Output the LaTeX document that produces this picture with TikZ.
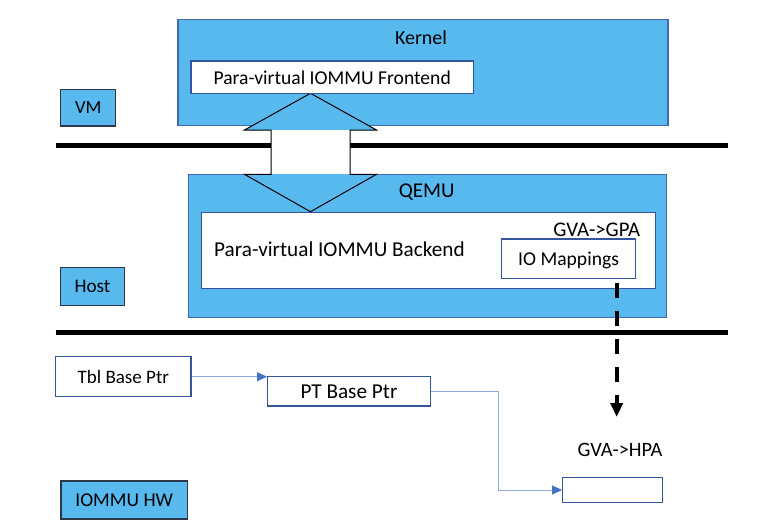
\documentclass[tikz,border=0pt]{standalone}
\usepackage{fontspec}
\setmainfont{Carlito}
\usetikzlibrary{arrows.meta}

\definecolor{boxblue}{RGB}{88,185,238}
\definecolor{kernelline}{RGB}{68,104,172}
\definecolor{tagline}{RGB}{45,55,72}
\definecolor{boxline}{RGB}{52,84,158}
\definecolor{linkblue}{RGB}{143,170,220}
\definecolor{headblue}{RGB}{68,114,196}

\begin{document}
\begin{tikzpicture}[x=1pt,y=-1pt,
	font=\fontsize{20}{24}\selectfont,
	bluebox/.style={draw=kernelline,fill=boxblue,line width=1.3pt,inner sep=0pt},
	tagbox/.style={draw=tagline,fill=boxblue,line width=1.3pt,inner sep=0pt,text depth=0pt},
	whitebox/.style={draw=boxline,fill=white,line width=1.3pt,inner sep=0pt,text depth=0pt},
	bar/.style={line width=5pt},
	link/.style={draw=linkblue,line width=1pt,-{Triangle[length=10pt,width=9pt,color=headblue]}}]
	\useasboundingbox (0,0) rectangle (764,528);
	% separators between VM, host and hardware
	\draw[bar] (55.7,145.5)--(728.3,145.5);
	\draw[bar] (55.7,332.3)--(728.3,332.3);
	% guest side
	\node[bluebox,minimum width=490,minimum height=106.2] (kernel) at (423,72.6) {};
	\node (kernellabel) at (421,37.5) {Kernel};
	\node[tagbox,minimum width=55,minimum height=36.7] (vm) at (88.2,107.7) {\fontsize{18.5}{22}\selectfont VM};
	% host side
	\node[bluebox,minimum width=478.2,minimum height=143.2] (qemu) at (427.4,245.9) {};
	\node (qemulabel) at (426.7,191.7) {\fontsize{21}{25}\selectfont QEMU};
	\node[tagbox,minimum width=63.6,minimum height=38.4] (host) at (92.5,286.5) {\fontsize{19.2}{23}\selectfont Host};
	% the double arrow through the separator
	\fill[boxblue] (310.5,93.3)--(376.5,130)--(350,130)--(350,174.3)--(376.5,174.3)--(310.5,211.7)
		--(244.5,174.3)--(271,174.3)--(271,130)--(244.5,130)--cycle;
	\fill[white] (271,130) rectangle (350,174.3);
	\draw[line width=1pt,line join=miter] (310.5,93.3)--(376.5,130)--(350,130)--(350,174.3)--(376.5,174.3)--(310.5,211.7)
		--(244.5,174.3)--(271,174.3)--(271,130)--(244.5,130)--cycle;
	\node[whitebox,minimum width=282.3,minimum height=32.3] (frontend) at (332.2,77.2) {\fontsize{19.6}{23}\selectfont Para-virtual IOMMU Frontend};
	\node[whitebox,minimum width=453.8,minimum height=76] (backend) at (428.6,250.3) {};
	\node[anchor=west,inner sep=0pt,text depth=0pt] (backendlabel) at (214,249.3) {\fontsize{21.2}{25}\selectfont Para-virtual IOMMU Backend};
	\node (gpa) at (596.7,230) {\fontsize{20.8}{25}\selectfont GVA->GPA};
	\node[whitebox,minimum width=133.8,minimum height=39.3] (iomap) at (568.6,258.7) {\fontsize{19.6}{23}\selectfont IO Mappings};
	% hardware side
	\node[tagbox,minimum width=126.3,minimum height=38] (iommuhw) at (124.2,500) {\fontsize{19.5}{23}\selectfont IOMMU HW};
	\node[whitebox,minimum width=135.3,minimum height=40] (tbl) at (123.4,376.7) {\fontsize{19}{23}\selectfont Tbl Base Ptr};
	\node[whitebox,minimum width=162.6,minimum height=29.3] (pt) at (349,391.4) {\fontsize{21.2}{25}\selectfont PT Base Ptr};
	\node[whitebox,minimum width=100,minimum height=25.4] (hpabox) at (612.7,490) {};
	\node (hpa) at (620,450) {\fontsize{20.4}{24}\selectfont GVA->HPA};
	\coordinate (dashtop) at (616.7,283);
	\coordinate (dashend) at (616.7,417);
	\draw[line width=4pt,dash pattern=on 15pt off 13pt,-{Triangle[length=14pt,width=12pt]}] (dashtop)--(dashend);
	\draw[link] (tbl.east)--(tbl.east -| pt.west);
	\draw[link] (pt.east)--++(67.4,0) |- (hpabox.west);
\end{tikzpicture}
\end{document}
